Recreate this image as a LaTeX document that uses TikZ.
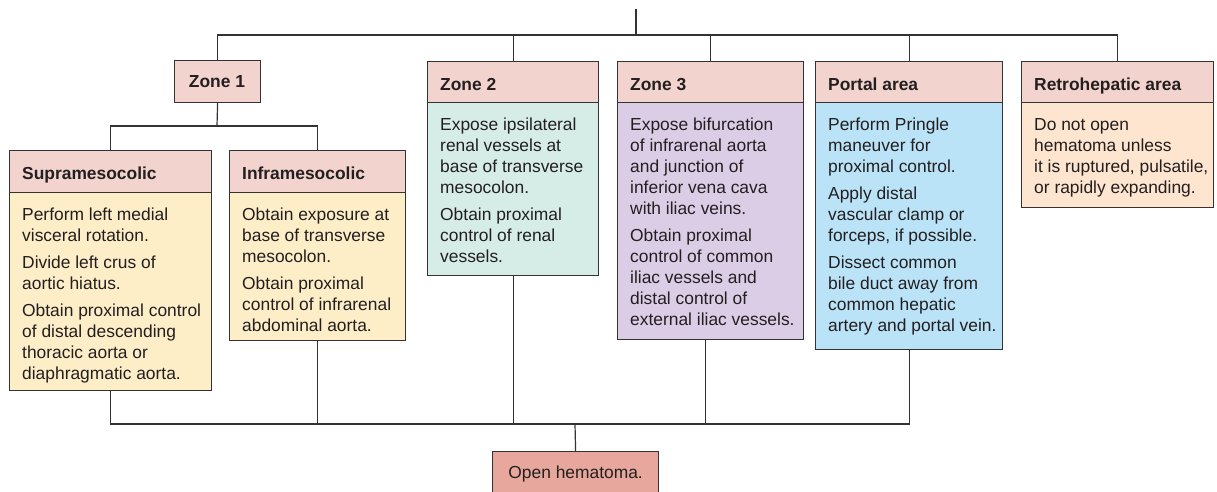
\documentclass[tikz,border=0pt]{standalone}
\usepackage{fontspec}
\setmainfont{Liberation Sans}
\usetikzlibrary{positioning}

\definecolor{hdrpink}{HTML}{F2D3CD}
\definecolor{cream}{HTML}{FDEEC8}
\definecolor{mint}{HTML}{D6EDE7}
\definecolor{lilac}{HTML}{DCCDE7}
\definecolor{skyblue}{HTML}{BAE3F7}
\definecolor{peach}{HTML}{FDE5CF}
\definecolor{salmon}{HTML}{E8A79D}
\definecolor{ink}{HTML}{231F20}
\definecolor{edge}{HTML}{333333}

\tikzset{
  frame/.style={draw=edge, line width=1.2pt, rectangle, inner sep=0pt},
  hdr/.style={frame, fill=hdrpink},
  titletext/.style={inner sep=0pt, text=ink, font=\fontsize{17.4}{21}\selectfont\bfseries},
  bodytext/.style={inner sep=0pt, align=left, text=ink, font=\fontsize{17.4}{21}\selectfont},
  link/.style={draw=edge, line width=1.2pt},
}

% #1 name, #2 left, #3 right, #4 top, #5 header bottom, #6 bottom,
% #7 body fill, #8 title, #9 body text
\newcommand\makecard[9]{%
  \pgfmathsetmacro\cw{#3-#2}%
  \pgfmathsetmacro\hh{#5-#4}%
  \pgfmathsetmacro\bh{#6-#5}%
  \node[hdr, anchor=north west, minimum width=\cw pt, minimum height=\hh pt] (#1h) at (#2,#4) {};
  \node[titletext, anchor=base west] (#1l) at ({#2+13},{#4+29.5}) {#8};
  \node[frame, fill=#7, anchor=north west, minimum width=\cw pt,
        minimum height=\bh pt] (#1b) at (#2,#5) {};
  \node[bodytext, anchor=north west] (#1t) at ({#2+13},{#5+16}) {#9};
}

\begin{document}
\begin{tikzpicture}[x=1pt,y=-1pt]
\useasboundingbox (0,0) rectangle (1217,491);

% zone 1 heading
\node[hdr, anchor=north west, minimum width=86pt, minimum height=42pt] (z1h) at (174,60) {};
\node[titletext, anchor=base] (z1l) at (217,87.5) {Zone 1};

\makecard{sup}{9}{211}{150}{192}{390}{cream}{Supramesocolic}%
  {Perform left medial\\visceral rotation.\\[6pt]Divide left crus of\\aortic hiatus.\\[6pt]%
   Obtain proximal control\\of distal descending\\thoracic aorta or\\diaphragmatic aorta.}
\makecard{inf}{229}{405}{150}{192}{340}{cream}{Inframesocolic}%
  {Obtain exposure at\\base of transverse\\mesocolon.\\[6pt]Obtain proximal\\control of infrarenal\\abdominal aorta.}
\makecard{ztwo}{427}{598}{61}{102}{275}{mint}{Zone 2}%
  {Expose ipsilateral\\renal vessels at\\base of transverse\\mesocolon.\\[6pt]Obtain proximal\\control of renal\\vessels.}
\makecard{zthree}{617}{803}{61}{102}{339}{lilac}{Zone 3}%
  {Expose bifurcation\\of infrarenal aorta\\and junction of\\inferior vena cava\\with iliac veins.\\[6pt]%
   Obtain proximal\\control of common\\iliac vessels and\\distal control of\\external iliac vessels.}
\makecard{port}{815}{1002}{61}{102}{349}{skyblue}{Portal area}%
  {Perform Pringle\\maneuver for\\proximal control.\\[6pt]Apply distal\\vascular clamp or\\forceps, if possible.\\[6pt]%
   Dissect common\\bile duct away from\\common hepatic\\artery and portal vein.}
\makecard{retro}{1021}{1213}{61}{102}{207}{peach}{Retrohepatic area}%
  {Do not open\\hematoma unless\\it is ruptured, pulsatile,\\or rapidly expanding.}

% outcome
\node[frame, fill=salmon, text=ink, font=\fontsize{17.4}{21}\selectfont,
      anchor=north west, minimum width=166pt, minimum height=44pt]
  (hem) at (492,451) {Open hematoma.};

% buses
\coordinate (root) at (636,9);
\coordinate (topbus) at (636,35);
\coordinate (z1bus) at (217,126);
\coordinate (lowbus) at (575,424);

% top-level split
\draw[link] (root) -- (topbus);
\draw[link] (z1h.north) |- (topbus) -| (retroh.north);
\draw[link] (ztwoh.north) -- (ztwoh.north |- topbus);
\draw[link] (zthreeh.north) -- (zthreeh.north |- topbus);
\draw[link] (porth.north) -- (porth.north |- topbus);

% zone 1 split
\draw[link] (z1h.south) -- (z1bus);
\draw[link] (suph.north) |- (z1bus) -| (infh.north);

% merge into outcome
\draw[link] (supb.south) |- (lowbus) -| (portb.south);
\draw[link] (infb.south) -- (infb.south |- lowbus);
\draw[link] (ztwob.south) -- (ztwob.south |- lowbus);
\draw[link] ([xshift=-5pt]zthreeb.south) -- ([xshift=-5pt]zthreeb.south |- lowbus);
\draw[link] (lowbus) -- (hem.north);
\end{tikzpicture}
\end{document}
